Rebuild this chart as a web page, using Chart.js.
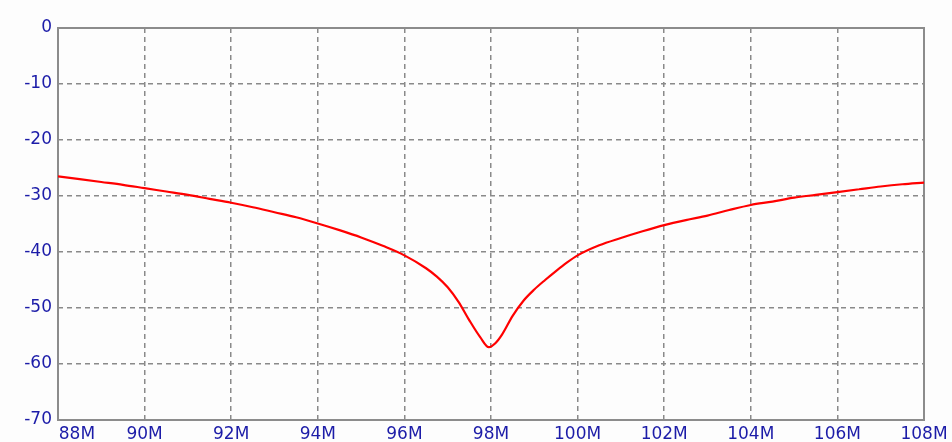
<!DOCTYPE html>
<html>
<head>
<meta charset="utf-8">
<script src="https://cdn.jsdelivr.net/npm/chart.js@4/dist/chart.umd.min.js"></script>
<style>
  html, body { margin: 0; padding: 0; background: #fdfdfd; }
  #wrap { width: 952px; height: 442px; }
</style>
</head>
<body>
<div id="wrap"><canvas id="chart" width="952" height="442"></canvas></div>
<script>
// frequency in MHz, response in dB
const freqs = [88, 88.5, 89, 89.5, 90, 90.5, 91, 91.5, 92, 92.5, 93, 93.5, 94, 94.5, 95, 95.5,
    96, 96.5, 96.75, 97, 97.25, 97.5, 97.75, 97.95, 98.1, 98.25, 98.5, 98.75, 99, 99.25, 99.5, 99.75,
    100, 100.5, 101, 101.5, 102, 102.5, 103, 103.5, 104, 104.5, 105, 105.5, 106, 106.5, 107, 107.5, 108];
const gainDb = [-26.5, -27.0, -27.5, -28.0, -28.6, -29.2, -29.8, -30.5, -31.2, -32.0, -32.9, -33.8, -34.9, -36.1, -37.4, -38.9,
    -40.6, -42.9, -44.4, -46.3, -48.9, -52.2, -55.2, -57.0, -56.3, -54.8, -51.4, -48.7, -46.7, -45.0, -43.4, -41.9,
    -40.6, -38.8, -37.5, -36.3, -35.2, -34.3, -33.5, -32.5, -31.6, -31.0, -30.3, -29.8, -29.3, -28.8, -28.3, -27.9, -27.6];
const xTicks = [88, 90, 92, 94, 96, 98, 100, 102, 104, 106, 108];
const yTicks = [0, -10, -20, -30, -40, -50, -60, -70];

const labelColor = '#1c1ca8';
const gridColor = '#8a8a8a';
const labelFont = { family: '"DejaVu Sans", Verdana, sans-serif', size: 17 };

const points = freqs.map((f, i) => ({ x: f, y: gainDb[i] }));

// solid frame around the plot area
const frame = {
    id: 'frame',
    beforeDatasetsDraw(chart) {
        const a = chart.chartArea, ctx = chart.ctx;
        ctx.save();
        ctx.strokeStyle = '#8c8c8c';
        ctx.lineWidth = 2;
        ctx.strokeRect(a.left, a.top, a.right - a.left, a.bottom - a.top);
        ctx.restore();
    }
};

new Chart(document.getElementById('chart'), {
    type: 'line',
    data: {
        datasets: [{
            data: points,
            borderColor: '#ff0000',
            borderWidth: 2.2,
            pointRadius: 0,
            cubicInterpolationMode: 'monotone',
            fill: false
        }]
    },
    options: {
        responsive: false,
        animation: false,
        layout: { padding: { left: 0, right: 28, top: 28, bottom: 0 } },
        plugins: { legend: { display: false }, tooltip: { enabled: false } },
        scales: {
            x: {
                type: 'linear',
                min: 88, max: 108,
                afterBuildTicks: s => { s.ticks = xTicks.map(v => ({ value: v })); },
                afterFit: s => { s.height = 22; },
                grid: { color: gridColor, lineWidth: 1.5, drawTicks: false },
                border: { display: false, dash: [5, 4] },
                ticks: {
                    color: labelColor,
                    padding: 4,
                    maxRotation: 0,
                    autoSkip: false,
                    font: labelFont,
                    callback: v => (v === 88 ? '       ' : '') + v + 'M'
                }
            },
            y: {
                min: -70, max: 0,
                afterBuildTicks: s => { s.ticks = yTicks.map(v => ({ value: v })); },
                afterFit: s => { s.width = 58; },
                grid: { color: gridColor, lineWidth: 1.5, drawTicks: false },
                border: { display: false, dash: [5, 4] },
                ticks: {
                    color: labelColor,
                    padding: 6,
                    autoSkip: false,
                    font: labelFont
                }
            }
        }
    },
    plugins: [frame]
});
</script>
</body>
</html>
